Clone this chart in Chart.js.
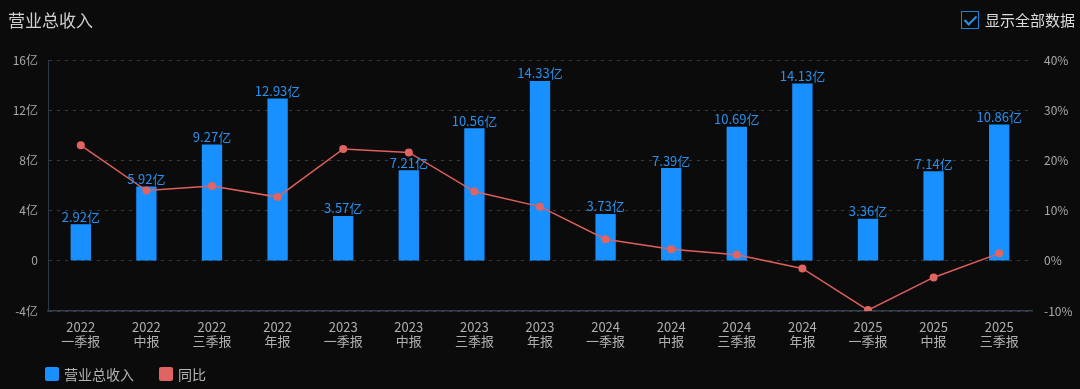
<!DOCTYPE html>
<html>
<head>
<meta charset="utf-8">
<script src="https://cdn.jsdelivr.net/npm/chart.js@4/dist/chart.umd.min.js"></script>
<style>
  html, body { margin: 0; padding: 0; background: #0b0b0c; }
  #wrap { position: relative; width: 1080px; height: 389px; }
  #title { position: absolute; left: 8px; top: 7px; color: #cfcfcf; font: 17px "Noto Sans CJK SC", sans-serif; }
  #showAll { position: absolute; right: 5px; top: 9px; color: #dcdcdc; font: 15px "Noto Sans CJK SC", sans-serif; display: flex; align-items: center; }
  #showAll .box { width: 16px; height: 16px; border: 1.5px solid #1d82d6; margin-right: 6px; position: relative; }
  #showAll .box:after { content: ""; position: absolute; left: 5px; top: 1px; width: 5px; height: 10px; border: solid #2a92e8; border-width: 0 2px 2px 0; transform: rotate(45deg); }
  #legend { position: absolute; left: 45px; top: 364px; display: flex; align-items: center; color: #b5b5b5; font: 14px "Noto Sans CJK SC", sans-serif; }
  #legend .item { display: flex; align-items: center; margin-right: 25px; }
  #legend .sw { width: 14px; height: 14px; border-radius: 2px; margin-right: 5px; }
  canvas { position: absolute; left: 0; top: 0; }
</style>
</head>
<body>
<div id="wrap">
  <canvas id="revChart" width="1080" height="389"></canvas>
  <div id="title">营业总收入</div>
  <div id="showAll"><span class="box"></span>显示全部数据</div>
  <div id="legend"></div>
</div>
<script>
const years = ['2022', '2022', '2022', '2022', '2023', '2023', '2023', '2023', '2024', '2024', '2024', '2024', '2025', '2025', '2025'];
const periods = ['一季报', '中报', '三季报', '年报', '一季报', '中报', '三季报', '年报', '一季报', '中报', '三季报', '年报', '一季报', '中报', '三季报'];
const revenue = [2.92, 5.92, 9.27, 12.93, 3.57, 7.21, 10.56, 14.33, 3.73, 7.39, 10.69, 14.13, 3.36, 7.14, 10.86];
const yoy = [23.0, 14.0, 14.9, 12.7, 22.3, 21.6, 13.8, 10.8, 4.3, 2.3, 1.2, -1.5, -9.8, -3.3, 1.5];
const leftTicks = [-4, 0, 4, 8, 12, 16];
const rightTicks = [-10, 0, 10, 20, 30, 40];

const cjk = '"Noto Sans CJK SC", sans-serif';
const labels = years.map((y, i) => [y, periods[i]]);

// value labels above the bars
const barLabels = {
    id: 'barLabels',
    afterDatasetsDraw(chart) {
        const c = chart.ctx;
        const meta = chart.getDatasetMeta(0);
        c.save();
        c.font = '13px ' + cjk;
        c.fillStyle = '#2a90ec';
        c.textAlign = 'center';
        c.textBaseline = 'bottom';
        meta.data.forEach((bar, i) => {
            c.fillText(revenue[i].toFixed(2) + '亿', bar.x, bar.y - 1);
        });
        c.restore();
    }
};

const ctx = document.getElementById('revChart').getContext('2d');
const revChart = new Chart(ctx, {
    type: 'bar',
    data: {
        labels: labels,
        datasets: [
            {
                label: '营业总收入',
                data: revenue,
                backgroundColor: '#1890ff',
                yAxisID: 'y',
                order: 2,
                barPercentage: 0.31,
                categoryPercentage: 1
            },
            {
                label: '同比',
                type: 'line',
                data: yoy,
                yAxisID: 'y1',
                borderColor: '#df605d',
                backgroundColor: '#e06461',
                borderWidth: 1.5,
                pointRadius: 4,
                pointHoverRadius: 4,
                pointBorderWidth: 0,
                order: 1
            }
        ]
    },
    options: {
        responsive: false,
        animation: false,
        layout: { padding: { top: 60, left: 0, right: 0, bottom: 32 } },
        plugins: {
            tooltip: { enabled: false },
            legend: { display: false }
        },
        scales: {
            x: {
                grid: { display: false, drawTicks: false },
                border: { color: '#33404f', width: 1.5 },
                ticks: { color: '#b0b0b0', font: { size: 13, family: cjk, lineHeight: 1.15 }, padding: 8, maxRotation: 0, autoSkip: false }
            },
            y: {
                position: 'left',
                min: -4,
                max: 16,
                afterBuildTicks(axis) { axis.ticks = leftTicks.map(v => ({ value: v })); },
                afterFit(axis) { axis.width = 48; },
                grid: { color: '#3a3a3a', drawTicks: false },
                border: { color: '#2b3a4a', dash: [3, 5] },
                ticks: {
                    color: '#a8a8a8',
                    font: { size: 12, family: cjk },
                    padding: 10,
                    callback: v => v === 0 ? '0' : v + '亿'
                }
            },
            y1: {
                position: 'right',
                min: -10,
                max: 40,
                afterBuildTicks(axis) { axis.ticks = rightTicks.map(v => ({ value: v })); },
                afterFit(axis) { axis.width = 48; },
                grid: { display: false, drawTicks: false },
                border: { display: false },
                ticks: {
                    color: '#a8a8a8',
                    font: { size: 12, family: cjk },
                    padding: 12,
                    callback: v => v + '%'
                }
            }
        }
    },
    plugins: [barLabels]
});

// legend built from the chart's datasets
const legendEl = document.getElementById('legend');
revChart.data.datasets.forEach((ds, i) => {
    const item = document.createElement('div');
    item.className = 'item';
    const sw = document.createElement('span');
    sw.className = 'sw';
    sw.style.background = i === 0 ? '#1890ff' : '#e06461';
    item.appendChild(sw);
    item.appendChild(document.createTextNode(ds.label));
    legendEl.appendChild(item);
});
</script>
</body>
</html>
